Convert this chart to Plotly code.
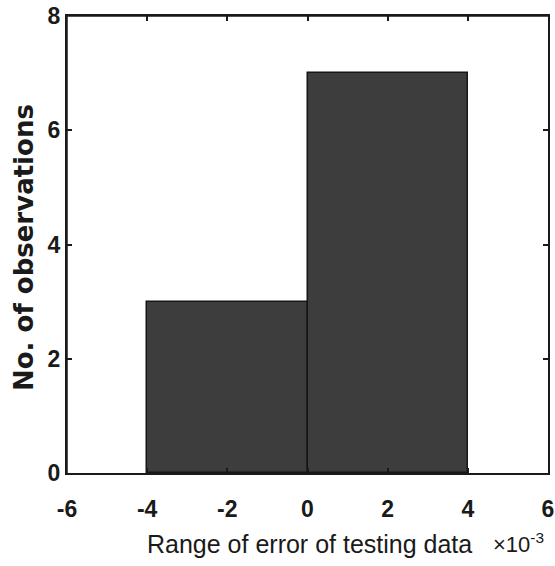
import plotly.graph_objects as go

# Histogram data (x in units of 1e-3)
bin_edges = [-4, 0, 4]
counts = [3, 7]
x_ticks = [-6, -4, -2, 0, 2, 4, 6]
y_ticks = [0, 2, 4, 6, 8]

centers = [(bin_edges[i] + bin_edges[i + 1]) / 2 for i in range(len(counts))]
widths = [bin_edges[i + 1] - bin_edges[i] for i in range(len(counts))]

fig = go.Figure()
fig.add_trace(go.Bar(
    x=centers, y=counts, width=widths,
    marker=dict(color="#3d3d3d", line=dict(color="#161616", width=1.5)),
    showlegend=False,
))

tick_font = dict(family="Liberation Sans, Arial, sans-serif", size=23, color="#1a1a1a")
axis_common = dict(
    showline=True, linecolor="#1a1a1a", linewidth=2, mirror="ticks",
    ticks="inside", ticklen=5, tickwidth=1.5, tickcolor="#1a1a1a",
    showgrid=False, zeroline=False, automargin=False,
    tickfont=tick_font,
)

fig.update_xaxes(range=[-6, 6], tickvals=x_ticks,
                 ticktext=["<b>%d</b>" % v for v in x_ticks], showticklabels=False,
                 **axis_common)
fig.update_yaxes(range=[0, 8], tickvals=y_ticks,
                 ticktext=["<b>%d</b>" % v for v in y_ticks], **axis_common)

box_line = dict(color="#1a1a1a", width=1.5)
fig.update_layout(
    width=555, height=566,
    margin=dict(l=67, r=7, t=16, b=93),
    paper_bgcolor="white", plot_bgcolor="white",
    bargap=0,
    # secondary x axis used only to place the x tick labels further below the axis
    xaxis2=dict(overlaying="x", matches="x", side="bottom", range=[-6, 6],
                tickvals=x_ticks, ticktext=["<b>%d</b>" % v for v in x_ticks],
                ticks="outside", ticklen=15, tickcolor="rgba(0,0,0,0)",
                showline=False, showgrid=False, zeroline=False, automargin=False,
                tickfont=tick_font),
    shapes=[
        dict(type="line", xref="paper", yref="paper", x0=0, x1=0, y0=0, y1=1,
             line=box_line, layer="above"),
        dict(type="line", xref="paper", yref="paper", x0=0, x1=1, y0=1, y1=1,
             line=box_line, layer="above"),
    ],
    annotations=[
        dict(text="Range of error of testing data", xref="paper", yref="paper",
             x=0.505, y=-(544 - 473) / 457, xanchor="center", yanchor="middle",
             showarrow=False,
             font=dict(family="Liberation Sans, Arial, sans-serif", size=25, color="#1a1a1a")),
        dict(text="×10<sup>-3</sup>", xref="paper", yref="paper",
             x=(546 - 67) / 481, y=-(543 - 473) / 457, xanchor="right", yanchor="middle",
             showarrow=False,
             font=dict(family="Liberation Sans, Arial, sans-serif", size=22, color="#1a1a1a")),
        dict(text="<b>No. of observations</b>", xref="paper", yref="paper",
             x=-(67 - 24) / 481, y=(473 - 248) / 457, xanchor="center", yanchor="middle",
             textangle=-90, showarrow=False,
             font=dict(family="DejaVu Sans, sans-serif", size=26, color="#1a1a1a")),
    ],
)
# invisible trace so the secondary x axis is rendered
fig.add_trace(go.Scatter(x=[centers[0]], y=[0], xaxis="x2", mode="markers",
                         marker=dict(opacity=0), hoverinfo="skip", showlegend=False))

fig.write_html("out.html", config={"displayModeBar": False},
               post_script="document.body.style.margin='0';")
